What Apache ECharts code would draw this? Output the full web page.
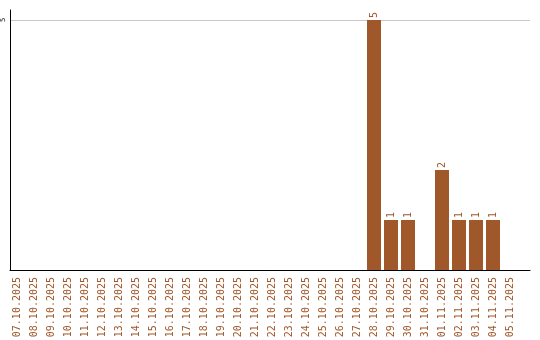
<!DOCTYPE html>
<html><head><meta charset="utf-8">
<script src="https://cdn.jsdelivr.net/npm/echarts@6/dist/echarts.min.js"></script>
<style>html,body{margin:0;padding:0;background:#fff}#c{width:540px;height:340px}</style>
</head><body><div id="c"></div>
<script>
const categories = ["07.10.2025","08.10.2025","09.10.2025","10.10.2025","11.10.2025","12.10.2025","13.10.2025","14.10.2025","15.10.2025","16.10.2025","17.10.2025","18.10.2025","19.10.2025","20.10.2025","21.10.2025","22.10.2025","23.10.2025","24.10.2025","25.10.2025","26.10.2025","27.10.2025","28.10.2025","29.10.2025","30.10.2025","31.10.2025","01.11.2025","02.11.2025","03.11.2025","04.11.2025","05.11.2025"];
const values = [0,0,0,0,0,0,0,0,0,0,0,0,0,0,0,0,0,0,0,0,0,5,1,1,0,2,1,1,1,0];
const yTicks = [5];

const brown = '#a0572a';
const font = 'DejaVu Sans Mono';
const chart = echarts.init(document.getElementById('c'));
chart.setOption({
  animation: false,
  grid: [
    {left: 10, right: 10, top: 10, bottom: 70, outerBoundsMode: 'none', containLabel: false},
    {left: 8.5, width: 510, top: 10, bottom: 70, outerBoundsMode: 'none', containLabel: false}
  ],
  xAxis: [
    {type: 'value', gridIndex: 0, min: 0, max: 1, axisLine: {show: true, onZero: false, lineStyle: {color: '#000', width: 1}},
     axisTick: {show: false}, axisLabel: {show: false}, splitLine: {show: false}},
    {type: 'category', gridIndex: 1, data: categories, axisLine: {show: false}, axisTick: {show: false},
     axisLabel: {interval: 0, rotate: 90, color: brown, fontFamily: font, fontSize: 10, margin: 7}}
  ],
  yAxis: [
    {type: 'value', gridIndex: 0, min: 0, max: 5.2, interval: 5,
     axisLine: {show: true, lineStyle: {color: '#000', width: 1}}, axisTick: {show: false},
     axisLabel: {rotate: 90, align: 'center', verticalAlign: 'middle', color: '#000', fontFamily: font, fontSize: 7, margin: 7,
       formatter: v => yTicks.includes(v) ? String(v) : ''},
     splitLine: {show: true, showMaxLine: false, showMinLine: false, lineStyle: {color: '#c8c8c8', width: 1}}},
    {type: 'value', gridIndex: 1, min: 0, max: 5.2, show: false, splitLine: {show: false}}
  ],
  series: [{
    type: 'bar', xAxisIndex: 1, yAxisIndex: 1, data: values, barWidth: 14,
    itemStyle: {color: brown},
    label: {show: true, position: 'top', rotate: 90, align: 'left', verticalAlign: 'middle', distance: 2,
      color: brown, fontFamily: font, fontSize: 10, formatter: p => p.value ? String(p.value) : ''}
  }]
});
</script></body></html>
